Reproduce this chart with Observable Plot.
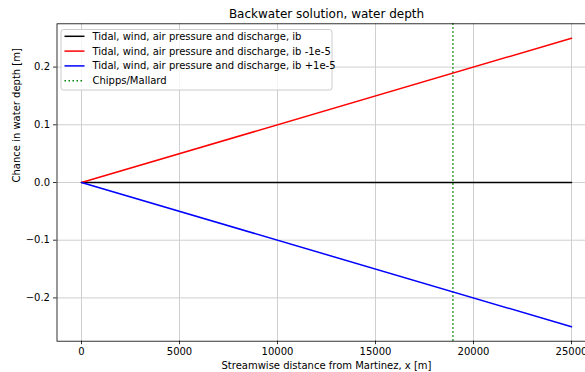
<!DOCTYPE html>
<html><head><meta charset="utf-8">
<script src="https://cdn.jsdelivr.net/npm/d3@7"></script>
<script src="https://cdn.jsdelivr.net/npm/@observablehq/plot@0.6"></script>
<style>
html,body{margin:0;padding:0;background:#fff;overflow:hidden}
#wrap{width:585px;height:372px;overflow:hidden}
#wrap svg{max-width:none !important;display:block}
</style></head>
<body><div id="wrap"></div>
<script>
// Data
const distance = [0, 25000];
const depthIb = [0, 0];
const depthIbMinus = [0, 0.25];
const depthIbPlus = [0, -0.25];
const chippsMallard = [18950];
const xTicks = [0, 5000, 10000, 15000, 20000, 25000];
const yTicks = [-0.2, -0.1, 0.0, 0.1, 0.2];
const seriesNames = [
  "Tidal, wind, air pressure and discharge, ib",
  "Tidal, wind, air pressure and discharge, ib -1e-5",
  "Tidal, wind, air pressure and discharge, ib +1e-5",
  "Chipps/Mallard"
];
const seriesColors = ["#000000", "#ff0000", "#0000ff", "#008000"];

const toRows = (ys) => distance.map((x, i) => ({x, y: ys[i]}));
const font = "DejaVu Sans, sans-serif";
const gridColor = "#cfcfcf";

const plot = Plot.plot({
  width: 596,
  height: 372,
  marginLeft: 56.5,
  marginRight: 0.5,
  marginTop: 23.3,
  marginBottom: 31.3,
  style: {fontFamily: font, fontSize: "10px", background: "#fff", color: "#000", maxWidth: "none"},
  x: {domain: [-1250, 26250]},
  y: {domain: [-0.275, 0.275]},
  marks: [
    Plot.gridX(xTicks, {stroke: gridColor, strokeOpacity: 1, strokeWidth: 1}),
    Plot.gridY(yTicks, {stroke: gridColor, strokeOpacity: 1, strokeWidth: 1}),
    Plot.axisX(xTicks, {tickSize: 3.5, tickPadding: 3.5, tickFormat: d => String(d), label: null, fontSize: 10, strokeWidth: 0.8}),
    Plot.axisY(yTicks, {tickSize: 3.5, tickPadding: 3.5, tickFormat: d3.format(".1f"), label: null, fontSize: 10, strokeWidth: 0.8}),
    Plot.ruleX(chippsMallard, {stroke: seriesColors[3], strokeWidth: 1.5, strokeDasharray: "1.5,2.5"}),
    Plot.line(toRows(depthIb), {x: "x", y: "y", stroke: seriesColors[0], strokeWidth: 1.5}),
    Plot.line(toRows(depthIbMinus), {x: "x", y: "y", stroke: seriesColors[1], strokeWidth: 1.5}),
    Plot.line(toRows(depthIbPlus), {x: "x", y: "y", stroke: seriesColors[2], strokeWidth: 1.5}),
    Plot.frame({stroke: "#000", strokeWidth: 0.8}),
    Plot.text(["Backwater solution, water depth"], {text: d => d, frameAnchor: "top", lineAnchor: "middle", dy: -9.5, fontSize: 12, fill: "#000"}),
    Plot.text(["Streamwise distance from Martinez, x [m]"], {text: d => d, frameAnchor: "bottom", lineAnchor: "middle", dy: 25, fontSize: 10, fill: "#000"}),
    Plot.text(["Chance in water depth [m]"], {text: d => d, frameAnchor: "left", lineAnchor: "middle", dx: -40, rotate: -90, fontSize: 10, fill: "#000"})
  ]
});

// Legend (upper left)
const svg = d3.select(plot);
const lg = svg.append("g").attr("font-family", font).attr("font-size", 10).attr("text-anchor", "start");
lg.append("rect").attr("x", 61).attr("y", 29.5).attr("width", 271).attr("height", 60.5)
  .attr("rx", 2.5).attr("fill", "#fff").attr("fill-opacity", 0.8)
  .attr("stroke", "#cccccc").attr("stroke-width", 1);
seriesNames.forEach((name, i) => {
  const cy = 36.3 + i * 14.8;
  lg.append("line").attr("x1", 64.5).attr("x2", 84.5).attr("y1", cy).attr("y2", cy)
    .attr("stroke", seriesColors[i]).attr("stroke-width", 1.5)
    .attr("stroke-dasharray", i === 3 ? "1.5,2.5" : null);
  lg.append("text").attr("x", 92.5).attr("y", cy).attr("dy", "0.35em")
    .attr("text-anchor", "start").attr("fill", "#000").text(name);
});

document.getElementById("wrap").appendChild(plot);
</script>
</body></html>
